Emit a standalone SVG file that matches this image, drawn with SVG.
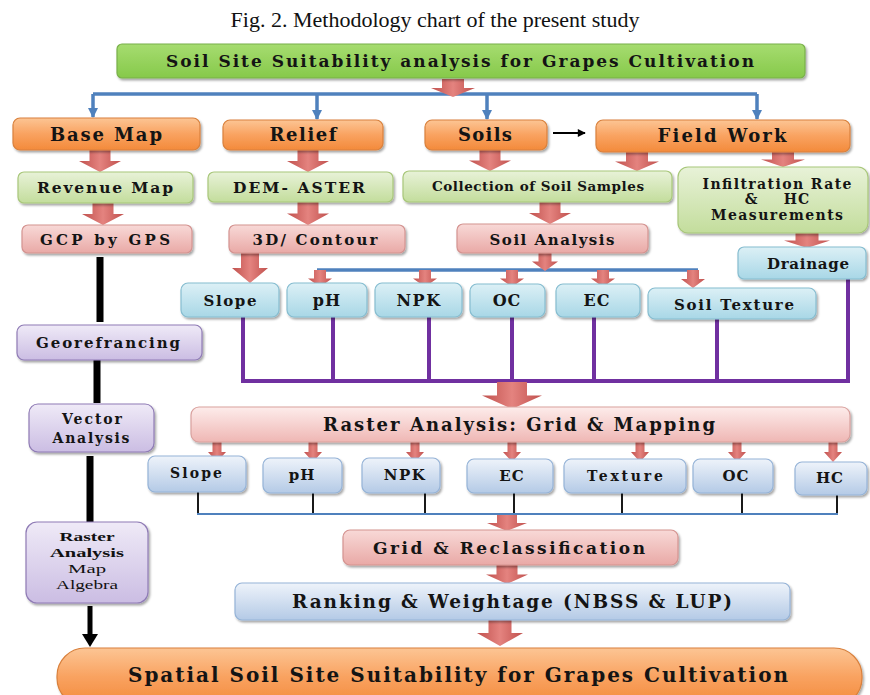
<svg xmlns="http://www.w3.org/2000/svg" width="870" height="695" viewBox="0 0 870 695">
<style>
.t{font-family:"DejaVu Serif","Liberation Serif",serif;font-weight:bold;fill:#141414;text-anchor:middle}
.r{font-family:"Liberation Serif","Times New Roman",serif;fill:#111;text-anchor:middle}
.box{filter:url(#sh);stroke-width:1.2}
.or{fill:url(#gOr);stroke:#d9803c}
.gt{fill:url(#gGt);stroke:#79b04a}
.gr{fill:url(#gGr);stroke:#a8c77a}
.pk{fill:url(#gPk);stroke:#d49390}
.pk2{fill:url(#gPk2);stroke:#d9a19e}
.cy{fill:url(#gCy);stroke:#86bdd0}
.bg{fill:url(#gBg);stroke:#95b3d7}
.pu{fill:url(#gPu);stroke:#8f7bb5}
.blue{stroke:#4f81bd;stroke-width:3.5;fill:none}
.pur{stroke:#7030a0;stroke-width:4;fill:none}
.blk{stroke:#000;fill:none}
.arr{fill:url(#gRed)}
</style>
<defs>
<filter id="sh" x="-10%" y="-20%" width="120%" height="150%">
<feDropShadow dx="1.5" dy="2" stdDeviation="1.3" flood-color="#000" flood-opacity="0.35"/>
</filter>
<linearGradient id="gOr" x1="0" y1="0" x2="0" y2="1"><stop offset="0" stop-color="#fcc594"/><stop offset="0.5" stop-color="#f9a260"/><stop offset="1" stop-color="#f38a3b"/></linearGradient>
<linearGradient id="gGt" x1="0" y1="0" x2="0" y2="1"><stop offset="0" stop-color="#a6dc70"/><stop offset="1" stop-color="#86c94a"/></linearGradient>
<linearGradient id="gGr" x1="0" y1="0" x2="0" y2="1"><stop offset="0" stop-color="#e8f2d8"/><stop offset="1" stop-color="#c3dd9c"/></linearGradient>
<linearGradient id="gPk" x1="0" y1="0" x2="0" y2="1"><stop offset="0" stop-color="#f8d9d7"/><stop offset="1" stop-color="#e9a9a6"/></linearGradient>
<linearGradient id="gPk2" x1="0" y1="0" x2="0" y2="1"><stop offset="0" stop-color="#fdeceb"/><stop offset="1" stop-color="#efb7b4"/></linearGradient>
<linearGradient id="gCy" x1="0" y1="0" x2="0" y2="1"><stop offset="0" stop-color="#dcf0f6"/><stop offset="1" stop-color="#a8d7e6"/></linearGradient>
<linearGradient id="gBg" x1="0" y1="0" x2="0" y2="1"><stop offset="0" stop-color="#eef3fa"/><stop offset="1" stop-color="#b4cae6"/></linearGradient>
<linearGradient id="gPu" x1="0" y1="0" x2="0" y2="1"><stop offset="0" stop-color="#efeaf7"/><stop offset="1" stop-color="#cbbde3"/></linearGradient>
<linearGradient id="gRed" x1="0" y1="0" x2="1" y2="0"><stop offset="0" stop-color="#c0504d"/><stop offset="0.5" stop-color="#e4837f"/><stop offset="1" stop-color="#c0504d"/></linearGradient>
<path id="ba" d="M-0.25,0 H0.25 V0.5 H0.5 L0,1 L-0.5,0.5 H-0.25 Z"/>
<marker id="bArr" viewBox="0 0 10 10" refX="9" refY="5" markerWidth="11" markerHeight="10" markerUnits="userSpaceOnUse" orient="auto"><path d="M0,0 L10,5 L0,10 Z" fill="#4f81bd"/></marker>
<marker id="kArr" viewBox="0 0 10 10" refX="9" refY="5" markerWidth="9" markerHeight="8" markerUnits="userSpaceOnUse" orient="auto"><path d="M0,0 L10,5 L0,10 Z" fill="#000"/></marker>
</defs>

<rect width="870" height="695" fill="#fff"/>
<text class="r" x="435" y="27" font-size="22">Fig. 2. Methodology chart of the present study</text>

<g id="connectors">
<path class="blue" d="M93,94 H757"/>
<path class="blue" d="M93,94 V117" marker-end="url(#bArr)"/>
<path class="blue" d="M317,94 V119" marker-end="url(#bArr)"/>
<path class="blue" d="M487,94 V119" marker-end="url(#bArr)"/>
<path class="blue" d="M757,94 V119" marker-end="url(#bArr)"/>
<line class="blk" x1="553" y1="133" x2="585" y2="133" stroke-width="2" marker-end="url(#kArr)"/>
<path class="blue" d="M317,270 H698"/>
<rect x="96.5" y="257" width="7" height="65" fill="#000"/>
<rect x="93.5" y="360" width="7" height="43" fill="#000"/>
<rect x="86.5" y="456" width="7" height="66" fill="#000"/>
<rect x="87.5" y="606" width="5" height="30" fill="#000"/>
<path d="M82,634 H98 L90,647 Z" fill="#000"/>
<path class="pur" d="M243,317 V381 H848 V279"/>
<path class="pur" d="M333,317 V381 M429,317 V381 M512,317 V381 M594,317 V381 M717,319 V381"/>
<g stroke="#000" stroke-width="1.8">
<line x1="198" y1="492" x2="198" y2="514"/>
<line x1="313" y1="493" x2="313" y2="514"/>
<line x1="425" y1="493" x2="425" y2="514"/>
<line x1="514" y1="493" x2="514" y2="514"/>
<line x1="622" y1="493" x2="622" y2="514"/>
<line x1="742" y1="493" x2="742" y2="514"/>
<line x1="837" y1="495" x2="837" y2="514"/>
</g>
<path d="M197,514 H838" stroke="#4f81bd" stroke-width="2.2" fill="none"/>
<use href="#ba" class="arr" transform="translate(453,79) scale(44,18)"/>
<use href="#ba" class="arr" transform="translate(100,150) scale(42,22)"/>
<use href="#ba" class="arr" transform="translate(308,150) scale(42,22)"/>
<use href="#ba" class="arr" transform="translate(490,150) scale(42,21)"/>
<use href="#ba" class="arr" transform="translate(637,152) scale(44,19)"/>
<use href="#ba" class="arr" transform="translate(783,152) scale(44,15)"/>
<use href="#ba" class="arr" transform="translate(103,203) scale(42,22)"/>
<use href="#ba" class="arr" transform="translate(308,202) scale(42,23)"/>
<use href="#ba" class="arr" transform="translate(550,202) scale(42,22)"/>
<use href="#ba" class="arr" transform="translate(250,253) scale(36,30)"/>
<use href="#ba" class="arr" transform="translate(545,252) scale(26,19)"/>
<use href="#ba" class="arr" transform="translate(807,233) scale(46,15)"/>
<use href="#ba" class="arr" transform="translate(320,270) scale(24,17)"/>
<use href="#ba" class="arr" transform="translate(425,270) scale(24,17)"/>
<use href="#ba" class="arr" transform="translate(512,270) scale(24,17)"/>
<use href="#ba" class="arr" transform="translate(603,270) scale(24,17)"/>
<use href="#ba" class="arr" transform="translate(693,270) scale(24,18)"/>
<use href="#ba" class="arr" transform="translate(512,382) scale(60,27)"/>
<use href="#ba" class="arr" transform="translate(217,442) scale(18,20)"/>
<use href="#ba" class="arr" transform="translate(313,442) scale(18,20)"/>
<use href="#ba" class="arr" transform="translate(415,442) scale(18,20)"/>
<use href="#ba" class="arr" transform="translate(512,442) scale(18,20)"/>
<use href="#ba" class="arr" transform="translate(640,442) scale(18,20)"/>
<use href="#ba" class="arr" transform="translate(737,442) scale(18,20)"/>
<use href="#ba" class="arr" transform="translate(833,442) scale(18,20)"/>
<use href="#ba" class="arr" transform="translate(507,515) scale(40,16)"/>
<use href="#ba" class="arr" transform="translate(507,565) scale(42,19)"/>
<use href="#ba" class="arr" transform="translate(500,620) scale(46,26)"/>
</g>

<g id="n-top"><rect class="box gt" x="117" y="44" width="688" height="34" rx="5"/><text class="t" x="460" y="67" font-size="17" textLength="588" lengthAdjust="spacing">Soil Site Suitability analysis for Grapes Cultivation</text></g>

<g id="n-basemap"><rect class="box or" x="13" y="118" width="187" height="32" rx="7"/><text class="t" x="106" y="141" font-size="18" textLength="112" lengthAdjust="spacing">Base Map</text></g>
<g id="n-relief"><rect class="box or" x="223" y="120" width="160" height="30" rx="7"/><text class="t" x="303" y="141" font-size="18" textLength="67" lengthAdjust="spacing">Relief</text></g>
<g id="n-soils"><rect class="box or" x="425" y="120" width="122" height="30" rx="7"/><text class="t" x="485" y="141" font-size="18" textLength="54" lengthAdjust="spacing">Soils</text></g>
<g id="n-fieldwork"><rect class="box or" x="596" y="120" width="254" height="32" rx="7"/><text class="t" x="722" y="142" font-size="18" textLength="129" lengthAdjust="spacing">Field Work</text></g>

<g id="n-revenue"><rect class="box gr" x="18" y="172" width="175" height="31" rx="6"/><text class="t" x="105" y="193" font-size="15.5" textLength="136" lengthAdjust="spacing">Revenue Map</text></g>
<g id="n-dem"><rect class="box gr" x="208" y="172" width="185" height="30" rx="6"/><text class="t" x="299" y="193" font-size="15.5" textLength="132" lengthAdjust="spacing">DEM- ASTER</text></g>
<g id="n-collection"><rect class="box gr" x="403" y="171" width="269" height="31" rx="6"/><text class="t" x="538" y="191" font-size="13.5" textLength="212" lengthAdjust="spacing">Collection of Soil Samples</text></g>
<g id="n-infiltration"><rect class="box gr" x="678" y="167" width="190" height="66" rx="10"/>
<text class="t" x="777" y="189" font-size="14" textLength="149" lengthAdjust="spacing">Infiltration Rate</text>
<text class="t" x="751" y="204" font-size="14">&amp;</text><text class="t" x="797" y="204" font-size="14" letter-spacing="1">HC</text>
<text class="t" x="777" y="220" font-size="14" textLength="132" lengthAdjust="spacing">Measurements</text></g>

<g id="n-gcp"><rect class="box pk" x="22" y="225" width="170" height="28" rx="6"/><text class="t" x="105" y="245" font-size="15" textLength="130" lengthAdjust="spacing">GCP by GPS</text></g>
<g id="n-contour"><rect class="box pk" x="229" y="225" width="176" height="28" rx="6"/><text class="t" x="315" y="245" font-size="15" textLength="125" lengthAdjust="spacing">3D/ Contour</text></g>
<g id="n-soilanalysis"><rect class="box pk" x="457" y="224" width="191" height="29" rx="6"/><text class="t" x="552" y="245" font-size="15" textLength="125" lengthAdjust="spacing">Soil Analysis</text></g>
<g id="n-drainage"><rect class="box cy" x="738" y="247" width="128" height="32" rx="6"/><text class="t" x="808" y="269" font-size="15" textLength="82" lengthAdjust="spacing">Drainage</text></g>

<g id="n-slope1"><rect class="box cy" x="181" y="283" width="98" height="34" rx="7"/><text class="t" x="230" y="306" font-size="15" textLength="53" lengthAdjust="spacing">Slope</text></g>
<g id="n-ph1"><rect class="box cy" x="287" y="283" width="80" height="34" rx="7"/><text class="t" x="327" y="306" font-size="16" letter-spacing="1">pH</text></g>
<g id="n-npk1"><rect class="box cy" x="375" y="283" width="87" height="34" rx="7"/><text class="t" x="419" y="306" font-size="16" letter-spacing="1.5">NPK</text></g>
<g id="n-oc1"><rect class="box cy" x="470" y="284" width="75" height="33" rx="7"/><text class="t" x="507" y="306" font-size="16" letter-spacing="1">OC</text></g>
<g id="n-ec1"><rect class="box cy" x="556" y="284" width="84" height="33" rx="7"/><text class="t" x="597" y="306" font-size="16" letter-spacing="1">EC</text></g>
<g id="n-texture1"><rect class="box cy" x="648" y="288" width="168" height="31" rx="7"/><text class="t" x="734" y="310" font-size="15" textLength="120" lengthAdjust="spacing">Soil Texture</text></g>

<g id="n-georef"><rect class="box pu" x="17" y="325" width="185" height="35" rx="7"/><text class="t" x="108" y="348" font-size="15" textLength="144" lengthAdjust="spacing">Georefrancing</text></g>
<g id="n-vector"><rect class="box pu" x="29" y="404" width="125" height="48" rx="9"/><text class="t" x="92" y="424" font-size="14" textLength="60" lengthAdjust="spacing">Vector</text><text class="t" x="91" y="443" font-size="14" textLength="77" lengthAdjust="spacing">Analysis</text></g>
<g id="n-rastermap"><rect class="box pu" x="26" y="522" width="122" height="81" rx="11"/>
<text class="r" x="87" y="541" font-size="13.5" font-weight="bold" textLength="55" lengthAdjust="spacingAndGlyphs">Raster</text>
<text class="r" x="87" y="557" font-size="13.5" font-weight="bold" textLength="74" lengthAdjust="spacingAndGlyphs">Analysis</text>
<text class="r" x="87" y="573" font-size="13.5" textLength="38" lengthAdjust="spacingAndGlyphs">Map</text>
<text class="r" x="87" y="589" font-size="13.5" textLength="62" lengthAdjust="spacingAndGlyphs">Algebra</text></g>

<g id="n-rastergrid"><rect class="box pk2" x="191" y="407" width="659" height="35" rx="8"/><text class="t" x="519" y="431" font-size="18" textLength="392" lengthAdjust="spacing">Raster Analysis: Grid &amp; Mapping</text></g>

<g id="n-slope2"><rect class="box bg" x="148" y="456" width="98" height="36" rx="7"/><text class="t" x="196" y="478" font-size="14" textLength="52" lengthAdjust="spacing">Slope</text></g>
<g id="n-ph2"><rect class="box bg" x="263" y="458" width="79" height="35" rx="7"/><text class="t" x="302" y="480" font-size="15" letter-spacing="1">pH</text></g>
<g id="n-npk2"><rect class="box bg" x="362" y="458" width="78" height="35" rx="7"/><text class="t" x="405" y="480" font-size="15" letter-spacing="1.5">NPK</text></g>
<g id="n-ec2"><rect class="box bg" x="467" y="459" width="86" height="34" rx="7"/><text class="t" x="512" y="481" font-size="15" letter-spacing="1">EC</text></g>
<g id="n-texture2"><rect class="box bg" x="564" y="459" width="122" height="34" rx="7"/><text class="t" x="625" y="481" font-size="14" textLength="76" lengthAdjust="spacing">Texture</text></g>
<g id="n-oc2"><rect class="box bg" x="693" y="459" width="80" height="34" rx="7"/><text class="t" x="736" y="481" font-size="15" letter-spacing="1">OC</text></g>
<g id="n-hc"><rect class="box bg" x="795" y="462" width="72" height="33" rx="7"/><text class="t" x="830" y="483" font-size="15" letter-spacing="1">HC</text></g>

<g id="n-gridreclass"><rect class="box pk" x="343" y="530" width="335" height="35" rx="7"/><text class="t" x="509" y="554" font-size="17" textLength="272" lengthAdjust="spacing">Grid &amp; Reclassification</text></g>
<g id="n-ranking"><rect class="box bg" x="235" y="583" width="555" height="37" rx="7"/><text class="t" x="512" y="608" font-size="18.5" textLength="440" lengthAdjust="spacing">Ranking &amp; Weightage (NBSS &amp; LUP)</text></g>
<g id="n-final"><rect class="box or" x="57" y="648" width="805" height="58" rx="28"/><text class="t" x="458" y="682" font-size="20" textLength="660" lengthAdjust="spacing">Spatial Soil Site Suitability for Grapes Cultivation</text></g>
</svg>
